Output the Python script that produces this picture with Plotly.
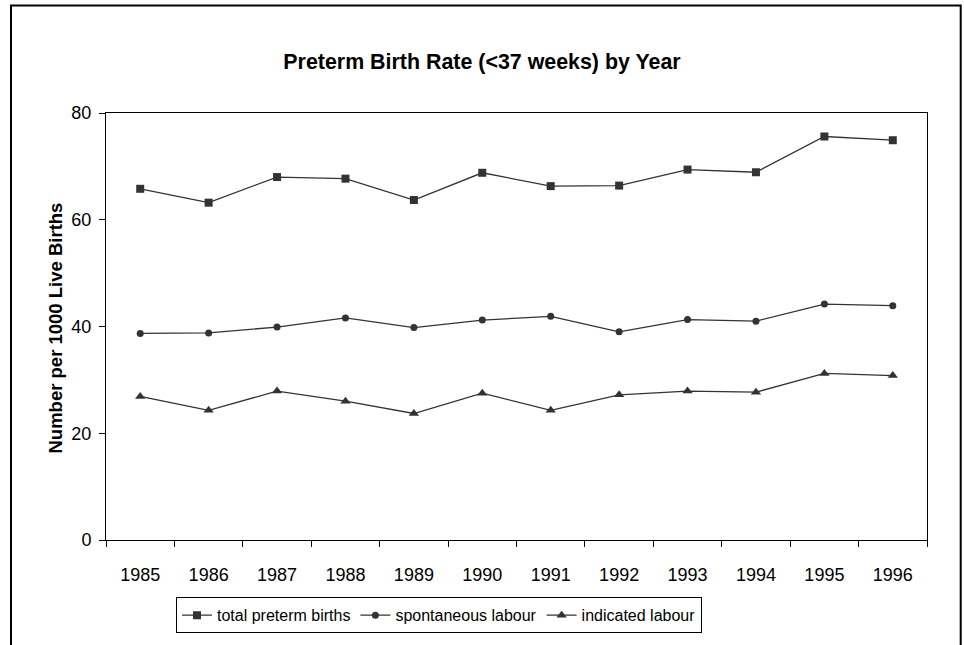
import plotly.graph_objects as go

years = ["1985", "1986", "1987", "1988", "1989", "1990", "1991", "1992", "1993", "1994", "1995", "1996"]
total_preterm = [65.8, 63.2, 68.0, 67.7, 63.7, 68.8, 66.3, 66.4, 69.4, 68.9, 75.6, 74.9]
spontaneous = [38.7, 38.8, 39.9, 41.6, 39.8, 41.2, 41.9, 39.0, 41.3, 41.0, 44.2, 43.9]
indicated = [26.9, 24.3, 27.9, 26.0, 23.7, 27.5, 24.3, 27.2, 27.9, 27.7, 31.2, 30.8]

FONT = "Liberation Sans, Arial, sans-serif"
DARK = "#333333"

fig = go.Figure()
fig.add_trace(go.Scatter(x=years, y=total_preterm, mode="lines+markers", name="total preterm births",
                         line=dict(color=DARK, width=1.3),
                         marker=dict(symbol="square", size=8, color=DARK)))
fig.add_trace(go.Scatter(x=years, y=spontaneous, mode="lines+markers", name="spontaneous labour",
                         line=dict(color=DARK, width=1.3),
                         marker=dict(symbol="circle", size=7, color=DARK)))
fig.add_trace(go.Scatter(x=years, y=indicated, mode="lines+markers", name="indicated labour",
                         line=dict(color=DARK, width=1.3),
                         marker=dict(symbol="triangle-up", size=9, color=DARK)))

W, H = 964, 645
L, R, T, B = 106, 37, 113, 103
pw, ph = W - L - R, H - T - B

def px(xp):
    return (xp - L) / pw

def py(yp):
    return (H - B - yp) / ph

fig.update_layout(
    width=W, height=H,
    margin=dict(l=L, r=R, t=T, b=B),
    paper_bgcolor="white", plot_bgcolor="white",
    font=dict(family=FONT, color="black", size=18),
    title=dict(text="<b>Preterm Birth Rate (&lt;37 weeks) by Year</b>",
               x=0.5, xref="container", y=1 - 62 / H, yref="container",
               xanchor="center", yanchor="middle",
               font=dict(family=FONT, size=21.4, color="black")),
    showlegend=True,
    legend=dict(orientation="h", x=px(439), xanchor="center", y=py(599.5), yanchor="top",
                bordercolor="black", borderwidth=1, bgcolor="white",
                font=dict(family=FONT, size=16, color="black")),
    xaxis=dict(type="category", range=[-0.5, len(years) - 0.5], autorange=False,
               showgrid=False, showline=True, linecolor="black", linewidth=1,
               mirror=True, ticks="outside", ticklen=6, tickcolor="black", tickson="boundaries",
               ticklabelstandoff=18,
               tickfont=dict(family=FONT, size=18, color="black"), zeroline=False),
    yaxis=dict(range=[0, 80], dtick=20, showgrid=False, showline=True, linecolor="black", linewidth=1,
               mirror=True, ticks="outside", ticklen=6, tickcolor="black", zeroline=False,
               ticklabelstandoff=4,
               tickfont=dict(family=FONT, size=18, color="black")),
    annotations=[dict(text="<b>Number per 1000 Live Births</b>", textangle=-90,
                      xref="paper", yref="paper", x=px(55.5), y=py(329),
                      xanchor="center", yanchor="middle", showarrow=False,
                      font=dict(family=FONT, size=18.5, color="black"))],
    shapes=[dict(type="rect", xref="paper", yref="paper",
                 x0=px(11), x1=px(960.7), y0=py(670), y1=py(5),
                 line=dict(color="black", width=2), fillcolor="rgba(0,0,0,0)", layer="above")],
)

fig.write_html("out.html", config={"displayModeBar": False},
               post_script="document.body.style.margin='0px';document.body.style.padding='0px';")
